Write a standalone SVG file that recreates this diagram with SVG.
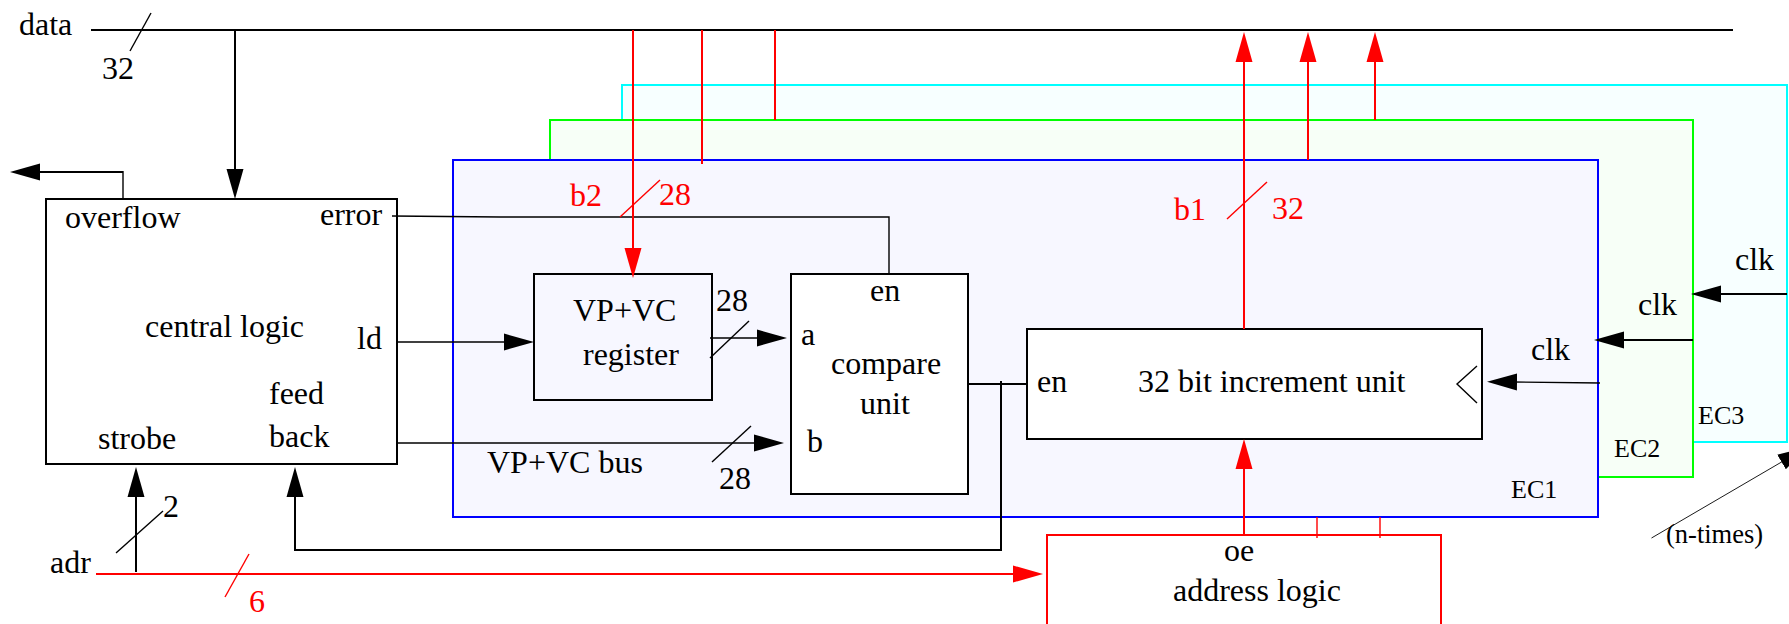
<svg xmlns="http://www.w3.org/2000/svg" width="1789" height="624" viewBox="0 0 1789 624">
<style>
text{font-family:"Liberation Serif","Times New Roman",serif;font-size:32px;fill:#000}
text.r{fill:#f00}
text.s{font-size:26px}
text.n{font-size:26.500px}
.box{fill:#fff;stroke:#000;stroke-width:2}
.k,.kt,.rd,.rt,.hair{fill:none}
.k{stroke:#000;stroke-width:2}
.kt{stroke:#000;stroke-width:1.400}
.hair{stroke:#000;stroke-width:.9}
.rd{stroke:#f00;stroke-width:2}
.rt{stroke:#f00;stroke-width:1.400}
.ab{marker-end:url(#ab)}
.ar{marker-end:url(#ar)}
</style>
<defs>
<marker id="ab" markerUnits="userSpaceOnUse" markerWidth="30" markerHeight="18" viewBox="0 0 30 18" refX="4" refY="9" orient="auto"><path d="M0 .5L30 9L0 17.5Z" fill="#000"/></marker>
<marker id="ar" markerUnits="userSpaceOnUse" markerWidth="30" markerHeight="18" viewBox="0 0 30 18" refX="4" refY="9" orient="auto"><path d="M0 .5L30 9L0 17.5Z" fill="#f00"/></marker>
</defs>
<rect width="1789" height="624" fill="#fff"/>
<g id="ec3"><rect x="622" y="85" width="1165" height="357" fill="#f7ffff" stroke="#0ff" stroke-width="2"/><text class="s" x="1698" y="424">EC3</text></g>
<g id="ec2"><rect x="550" y="120" width="1143" height="357" fill="#f7fff7" stroke="#0f0" stroke-width="2"/><text class="s" x="1614" y="457">EC2</text></g>
<g id="ec1"><rect x="453" y="160" width="1145" height="357" fill="#f7f7ff" stroke="#00f" stroke-width="2"/><text class="s" x="1511" y="498">EC1</text></g>
<g id="central-logic"><rect class="box" x="46" y="199" width="351" height="265"/>
<text x="65" y="228">overflow</text><text x="320" y="225">error</text><text x="145" y="337">central logic</text><text x="357" y="349">ld</text><text x="269" y="404">feed</text><text x="269" y="447">back</text><text x="98" y="449">strobe</text></g>
<g id="register"><rect x="534" y="274" width="178" height="126" fill="none" stroke="#000" stroke-width="2"/><text x="573" y="321">VP+VC</text><text x="583" y="365">register</text></g>
<g id="compare-unit"><rect class="box" x="791" y="274" width="177" height="220"/><text x="870" y="301">en</text><text x="801" y="345">a</text><text x="807" y="452">b</text><text x="831" y="374">compare</text><text x="860" y="414">unit</text></g>
<g id="increment-unit"><rect class="box" x="1027" y="329" width="455" height="110"/><text x="1037" y="392">en</text><text x="1138" y="392">32 bit increment unit</text><path class="kt" d="M1477 366L1457 384L1477 403"/></g>
<g id="address-logic"><path d="M1047 630V535H1441V630" fill="#fff" stroke="#f00" stroke-width="2"/><text x="1224" y="561">oe</text><text x="1173" y="601">address logic</text></g>
<g id="connectors">
<path class="k" d="M91 30H1733"/>
<path class="kt" d="M151 13L130 51"/>
<path class="k ab" d="M235 29V173"/>
<path class="kt" d="M123 200V171"/><path class="k ab" d="M123 172H36"/>
<path class="kt" d="M392 216L500 217H889V273"/>
<path class="kt ab" d="M398 342H508"/>
<path class="kt ab" d="M398 443H758"/><path class="kt" d="M751 426L712 462"/>
<path class="kt ab" d="M710 338H761"/><path class="kt" d="M749 321L710 358"/>
<path class="k" d="M968 384H1027"/>
<path class="k ab" d="M1001 381V550H295V493"/>
<path class="k ab" d="M136 572V493"/><path class="kt" d="M163 511L116 553"/>
<path class="rd ar" d="M96 574H1017"/><path class="rt" d="M249 554L225 597"/>
<path class="rd ar" d="M633 30V252"/><path class="rt" d="M660 180L620 217"/>
<path class="rd" d="M702 30V164"/><path class="rd" d="M775 30V120"/>
<path class="rd ar" d="M1244 329V58"/><path class="rd ar" d="M1308 160V58"/><path class="rd ar" d="M1375 120V58"/>
<path class="rt" d="M1267 182L1227 219"/>
<path class="rd ar" d="M1244 535V465"/>
<path class="rt" d="M1317 517V538M1380 517V538"/>
<path class="kt ab" d="M1600 383L1513 382"/>
<path class="k ab" d="M1693 340H1620"/>
<path class="k ab" d="M1787 294H1717"/>
<path class="hair ab" d="M1651.500 538L1785 460"/>
</g>
<g id="labels">
<text x="19" y="35">data</text><text x="102" y="79">32</text>
<text class="r" x="570" y="206">b2</text><text class="r" x="659" y="205">28</text>
<text class="r" x="1174" y="220">b1</text><text class="r" x="1272" y="219">32</text>
<text x="716" y="311">28</text><text x="719" y="489">28</text>
<text x="487" y="473">VP+VC bus</text>
<text x="163" y="517">2</text><text x="50" y="573">adr</text><text class="r" x="249" y="612">6</text>
<text x="1531" y="360">clk</text><text x="1638" y="315">clk</text><text x="1735" y="270">clk</text>
<text class="n" x="1666" y="543">(n-times)</text>
</g>
</svg>
